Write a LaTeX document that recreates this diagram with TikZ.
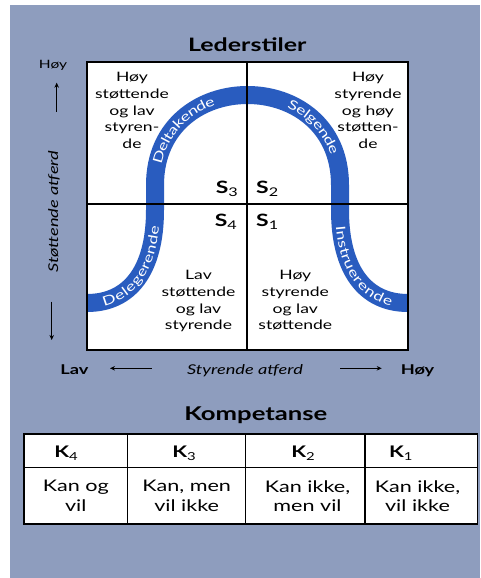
\documentclass[tikz,border=0pt]{standalone}
\usepackage{fontspec}
\setmainfont{Lato}[FakeStretch=1.35]
\usetikzlibrary{arrows.meta,decorations.text}
\definecolor{bgc}{RGB}{142,157,190}
\definecolor{bandc}{RGB}{41,92,191}
\newcommand{\Ssub}[1]{\raisebox{-3pt}{\fontsize{12}{12}\selectfont\mdseries #1}}
\newcommand{\Ksub}[1]{\raisebox{-2.5pt}{\fontsize{11}{11}\selectfont\mdseries #1}}
\tikzset{
  quad/.style={align=center, font=\fontsize{13}{16.7}\selectfont, inner sep=0pt, anchor=north},
  slab/.style={font=\fontsize{17}{17}\selectfont\bfseries, inner sep=0pt},
  gridline/.style={line width=1.2pt},
  frame/.style={line width=1.5pt},
  axarrow/.style={line width=0.8pt, -{Stealth[length=5pt,width=4.5pt]}},
  axlab/.style={font=\fontsize{13.5}{13.5}\selectfont\bfseries, inner sep=0pt, anchor=base},
  ktitle/.style={font=\fontsize{16}{16}\selectfont\bfseries, inner sep=0pt, anchor=base},
  kbody/.style={align=center, font=\fontsize{16}{19.5}\selectfont, inner sep=0pt, anchor=north},
  bandtext/.style={decorate, decoration={text along path, text color=white, text align=center, raise=-4.7pt, text={|\fontsize{13}{13}\selectfont|#1}}},
}
\begin{document}
\begin{tikzpicture}[x=1pt,y=-1pt]
\useasboundingbox (0,0) rectangle (480,578);
\fill[bgc] (10,5) rectangle (480,578);
\fill[white] (87,62) rectangle (408,350);
\begin{scope}
  \clip (87,62) rectangle (408,350);
  \draw[bandc, line width=18pt] (87,303) .. controls (130,303) and (155,270) .. (155,210) -- (155,185) .. controls (155,65) and (340,65) .. (340,185) -- (340,210) .. controls (340,270) and (365,303) .. (408,303);
\end{scope}
\path[bandtext=Delegerende] (87,303) .. controls (130,303) and (155,270) .. (155,210);
\path[bandtext=Deltakende] (155,198) -- (155,185) .. controls (155,125) and (201.25,95) .. (247.5,95);
\path[bandtext=Selgende] (247.5,95) .. controls (293.75,95) and (340,125) .. (340,185) -- (340,196);
\path[bandtext=Instruerende] (340,210) .. controls (340,270) and (365,303) .. (408,303);
\draw[gridline] (247,62) -- (247,350);
\draw[gridline] (87,204) -- (408,204);
\draw[frame] (87,62) rectangle (408,350);
% title
\node[font=\fontsize{18.5}{18.5}\selectfont\bfseries, inner sep=0pt, anchor=base] (title) at (247.2,51.7) {Lederstiler};
% quadrant texts
\node[quad] (tl) at (132,72.3) {Høy\\støttende\\og lav\\styren-\\de};
\node[quad] (tr) at (368,72.3) {Høy\\styrende\\og høy\\støtten-\\de};
\node[quad] (bl) at (198.5,270.3) {Lav\\støttende\\og lav\\styrende};
\node[quad] (br) at (295.3,270.3) {Høy\\styrende\\og lav\\støttende};
% S labels
\node[slab, anchor=base east] (s3) at (238,193) {S\Ssub{3}};
\node[slab, anchor=base west] (s2) at (256,193) {S\Ssub{2}};
\node[slab, anchor=base east] (s4) at (237,226.5) {S\Ssub{4}};
\node[slab, anchor=base west] (s1) at (256,226.5) {S\Ssub{1}};
% vertical axis
\node[font=\fontsize{11.5}{11.5}\selectfont, inner sep=0pt, anchor=base] (hoyv) at (53,68) {Høy};
\coordinate (upa) at (56.7,111.7);
\coordinate (upb) at (56.7,82.7);
\draw[axarrow] (upa) -- (upb);
\node[font=\fontsize{13.5}{13.5}\selectfont\itshape, inner sep=0pt, rotate=90] (vlab) at (54,211.7) {Støttende atferd};
\coordinate (dna) at (51.7,301.7);
\coordinate (dnb) at (51.7,340);
\draw[axarrow] (dna) -- (dnb);
% horizontal axis
\node[axlab] (lav) at (74.5,374) {Lav};
\node[font=\fontsize{13.5}{13.5}\selectfont\itshape, inner sep=0pt, anchor=base] (hlab) at (245,374) {Styrende atferd};
\node[axlab] (hoyh) at (417.5,374) {Høy};
\coordinate (la) at (151.7,368.3);
\coordinate (lb) at (110,368.3);
\draw[axarrow] (la) -- (lb);
\coordinate (ra) at (340,368.3);
\coordinate (rb) at (381.7,368.3);
\draw[axarrow] (ra) -- (rb);
% competence table
\node[font=\fontsize{19}{19}\selectfont\bfseries, inner sep=0pt, anchor=base] (komp) at (255.8,420.7) {Kompetanse};
\fill[white] (24,434) rectangle (477.7,524);
\draw[frame] (24,434) rectangle (477.7,524);
\draw[gridline] (24,467.7) -- (477.7,467.7);
\draw[gridline] (127.3,434) -- (127.3,524);
\draw[gridline] (245.7,434) -- (245.7,524);
\draw[gridline] (365,434) -- (365,524);
\node[ktitle] (k4) at (66,457.7) {K\Ksub{4}};
\node[ktitle] (k3) at (184,457.7) {K\Ksub{3}};
\node[ktitle] (k2) at (303,457.7) {K\Ksub{2}};
\node[ktitle] (k1) at (400.8,457.7) {K\Ksub{1}};
\node[kbody] (b4) at (75.8,480.2) {Kan og\\vil};
\node[kbody] (b3) at (186.7,480.2) {Kan, men\\vil ikke};
\node[kbody] (b2) at (307.5,480.2) {Kan ikke,\\men vil};
\node[kbody] (b1) at (417.5,480.2) {Kan ikke,\\vil ikke};
\end{tikzpicture}
\end{document}
